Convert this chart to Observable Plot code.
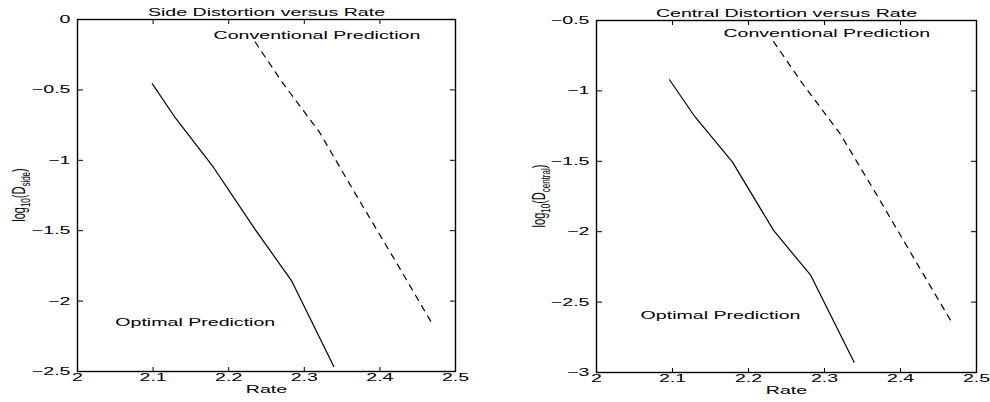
<!DOCTYPE html>
<html><head><meta charset="utf-8">
<script src="https://cdn.jsdelivr.net/npm/d3@7"></script>
<script src="https://cdn.jsdelivr.net/npm/@observablehq/plot@0.6"></script>
<style>
body{margin:0;background:#fff;}
#wrap{display:flex;width:990px;height:402px;}
</style></head><body><div id="wrap"></div>
<script>
// ---- data ----
const sideOptRate  = [2.099, 2.130, 2.180, 2.234, 2.283, 2.339];
const sideOptDist  = [-0.457, -0.703, -1.051, -1.484, -1.854, -2.465];
const sideConvRate = [2.235, 2.27, 2.32, 2.37, 2.42, 2.468];
const sideConvDist = [-0.16, -0.44, -0.80, -1.26, -1.71, -2.15];
const centOptRate  = [2.096, 2.130, 2.179, 2.233, 2.282, 2.339];
const centOptDist  = [-0.921, -1.187, -1.506, -1.991, -2.311, -2.927];
const centConvRate = [2.233, 2.27, 2.32, 2.37, 2.42, 2.467];
const centConvDist = [-0.65, -0.94, -1.30, -1.75, -2.21, -2.64];
const xTicks = [2, 2.1, 2.2, 2.3, 2.4, 2.5];
const sideYTicks = [0, -0.5, -1, -1.5, -2, -2.5];
const centYTicks = [-0.5, -1, -1.5, -2, -2.5, -3];
const titles = ["Side Distortion versus Rate", "Central Distortion versus Rate"];
const xLabel = "Rate";
const yLabelSubs = ["side", "central"];
const annotLabels = ["Conventional Prediction", "Optimal Prediction"];
const sideAnnotX = [2.18, 2.05], sideAnnotY = [-0.114, -2.152];
const centAnnotX = [2.167, 2.058], centAnnotY = [-0.592, -2.595];

const rows = (xs, ys) => xs.map((x, i) => ({rate: x, dist: ys[i]}));
const annots = (xs, ys) => annotLabels.map((t, i) => ({label: t, x: xs[i], y: ys[i]}));
const fmt = d3.format("~g");
const STRETCH = 1.78;

function panel(o) {
  const p = Plot.plot({
    width: 495, height: 402,
    marginLeft: o.ml, marginRight: o.mr, marginTop: o.mt, marginBottom: o.mb,
    style: {fontFamily: "Liberation Sans, Arial, sans-serif", fontSize: "11px", color: "black", background: "white", overflow: "visible"},
    x: {domain: [2, 2.5]},
    y: {domain: o.yDomain},
    marks: [
      Plot.line(o.opt, {x: "rate", y: "dist", stroke: "black", strokeWidth: 1.2}),
      Plot.line(o.conv, {x: "rate", y: "dist", stroke: "black", strokeWidth: 1.2, strokeDasharray: "6,6"}),
      Plot.text(o.annot, {x: "x", y: "y", text: "label", textAnchor: "start", fontSize: 11}),
      Plot.frame({stroke: "black", strokeWidth: 1.4}),
      Plot.axisX({anchor: "bottom", ticks: xTicks, tickSize: 4, inset: 4, tickFormat: () => "", label: null}),
      Plot.axisX({anchor: "top", ticks: xTicks, tickSize: 4, inset: 4, tickFormat: () => "", label: null}),
      Plot.axisY({anchor: "left", ticks: o.yTicks, tickSize: 6, inset: 6, tickFormat: () => "", label: null}),
      Plot.axisY({anchor: "right", ticks: o.yTicks, tickSize: 6, inset: 6, tickFormat: () => "", label: null}),
      Plot.text(xTicks, {x: d => d, frameAnchor: "bottom", dy: 9, text: d => fmt(d), fontSize: 11}),
      Plot.text(o.yTicks, {y: d => d, frameAnchor: "left", dx: -7, textAnchor: "end", text: d => fmt(d), fontSize: 11}),
      Plot.text([o.title], {frameAnchor: "top", dy: -11, fontSize: 11}),
      Plot.text([xLabel], {frameAnchor: "bottom", dy: 21, fontSize: 11})
    ]
  });
  const t = d3.select(p).append("text")
    .attr("class", "ylab")
    .attr("transform", `translate(${o.ylx},${o.yly}) rotate(-90) scale(1,1.6)`)
    .attr("text-anchor", "middle")
    .attr("font-size", 11)
    .attr("fill", "black");
  t.append("tspan").text("log");
  t.append("tspan").attr("dy", 3).attr("font-size", 8).text("10");
  t.append("tspan").attr("dy", -3).text("(D");
  t.append("tspan").attr("dy", 3).attr("font-size", 8).text(o.sub);
  t.append("tspan").attr("dy", -3).text(")");
  return p;
}

// the reference's lettering is horizontally stretched: scale each label about its anchor
function stretch(svg) {
  d3.select(svg).selectAll("text").each(function () {
    if (this.classList.contains("ylab")) return;
    if (!this.textContent) return;
    const ax = +(this.getAttribute("x") || 0);
    const tr = this.getAttribute("transform") || "";
    this.setAttribute("transform", `${tr} translate(${ax},0) scale(${STRETCH},1) translate(${-ax},0)`);
  });
}

const wrap = document.getElementById("wrap");
const left = panel({
  ml: 77, mr: 40, mt: 19, mb: 31,
  yDomain: [-2.5, 0], yTicks: sideYTicks, title: titles[0], sub: yLabelSubs[0],
  opt: rows(sideOptRate, sideOptDist), conv: rows(sideConvRate, sideConvDist),
  annot: annots(sideAnnotX, sideAnnotY), ylx: 25, yly: 195
});
const right = panel({
  ml: 101, mr: 14, mt: 20, mb: 30,
  yDomain: [-3, -0.5], yTicks: centYTicks, title: titles[1], sub: yLabelSubs[1],
  opt: rows(centOptRate, centOptDist), conv: rows(centConvRate, centConvDist),
  annot: annots(centAnnotX, centAnnotY), ylx: 50, yly: 196
});
wrap.append(left);
wrap.append(right);
stretch(left);
stretch(right);
</script></body></html>
